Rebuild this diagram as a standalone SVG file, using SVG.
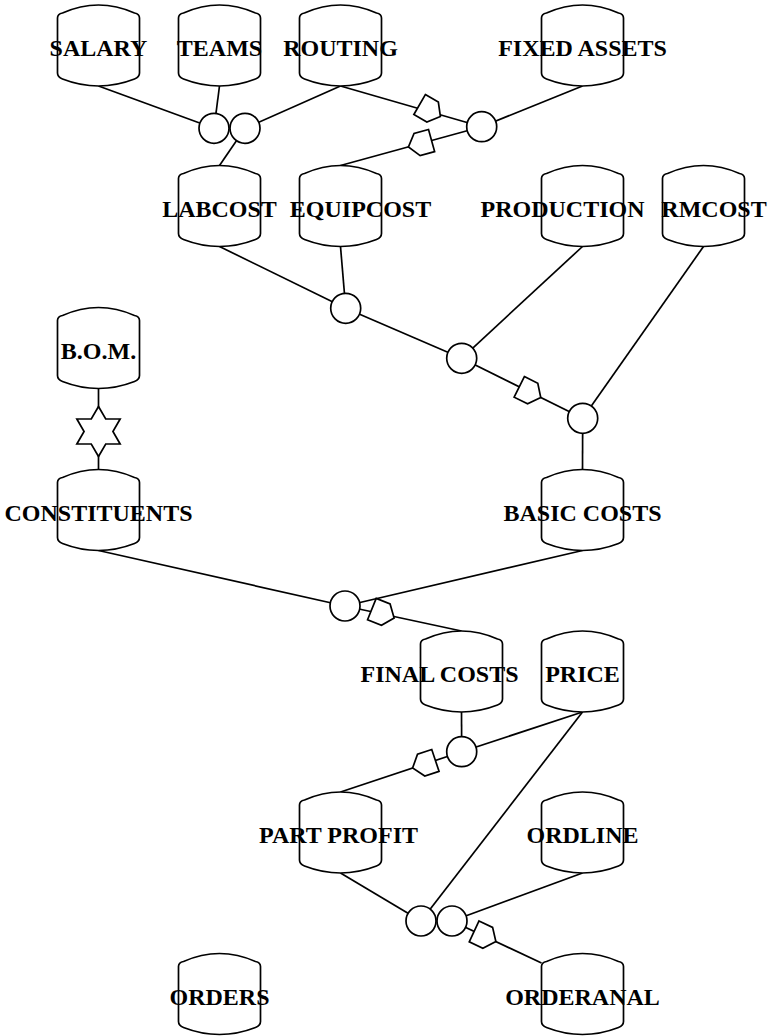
<svg xmlns="http://www.w3.org/2000/svg" xmlns:xlink="http://www.w3.org/1999/xlink" width="769" height="1036" viewBox="0 0 769 1036">
  <style>
    .node use { fill: #ffffff; stroke: #000000; stroke-width: 1.7; }
    .node text { font-family: "Liberation Serif", "Times New Roman", serif; font-weight: bold; font-size: 24px; text-anchor: middle; fill: #000000; }
    .links line { stroke: #000000; stroke-width: 1.7; }
    .join { fill: #ffffff; stroke: #000000; stroke-width: 1.7; }
  </style>
  <defs>
    <!-- drum outline, origin at the top centre -->
    <path id="drum" d="M -41,68 L -41,13 Q -41,9 -36,8 Q 0,-8 36,8 Q 41,9 41,13 L 41,68 Q 41,72 36,74 Q 0,88 -36,74 Q -41,72 -41,68 Z"/>
    <!-- directed junction, apex along +x -->
    <path id="penta" d="M -12,-11.5 L 3,-11.5 L 12,0 L 3,11.5 L -12,11.5 Z"/>
    <circle id="ring" r="15"/>
    <path id="star" d="M 0,-25 L 7.22,-12.5 L 21.65,-12.5 L 14.43,0 L 21.65,12.5 L 7.22,12.5 L 0,25 L -7.22,12.5 L -21.65,12.5 L -14.43,0 L -21.65,-12.5 L -7.22,-12.5 Z"/>
  </defs>

  <g id="connectors" class="links">
    <line x1="98.5" y1="86" x2="214" y2="128.3"/>
    <line x1="219.5" y1="86" x2="214" y2="128.3"/>
    <line x1="340.5" y1="86" x2="245" y2="128.3"/>
    <line x1="245" y1="128.3" x2="219.5" y2="165.5"/>
    <line x1="340.5" y1="86" x2="481.7" y2="126.7"/>
    <line x1="582.5" y1="86" x2="481.7" y2="126.7"/>
    <line x1="481.7" y1="126.7" x2="340.5" y2="165.5"/>
    <line x1="219.5" y1="246.5" x2="345.7" y2="308.3"/>
    <line x1="340.5" y1="246.5" x2="345.7" y2="308.3"/>
    <line x1="345.7" y1="308.3" x2="461.7" y2="358.3"/>
    <line x1="582.5" y1="246.5" x2="461.7" y2="358.3"/>
    <line x1="461.7" y1="358.3" x2="582.7" y2="418.3"/>
    <line x1="703.5" y1="246.5" x2="582.7" y2="418.3"/>
    <line x1="582.7" y1="418.3" x2="582.5" y2="469.5"/>
    <line x1="98.5" y1="388.5" x2="98.5" y2="469.5"/>
    <line x1="98.5" y1="550.5" x2="345" y2="606"/>
    <line x1="582.5" y1="550.5" x2="345" y2="606"/>
    <line x1="345" y1="606" x2="461.5" y2="631"/>
    <line x1="461.5" y1="712" x2="461.7" y2="751.7"/>
    <line x1="582.5" y1="712" x2="461.7" y2="751.7"/>
    <line x1="461.7" y1="751.7" x2="340.5" y2="792"/>
    <line x1="582.5" y1="712" x2="421" y2="921"/>
    <line x1="340.5" y1="873" x2="421" y2="921"/>
    <line x1="582.5" y1="873" x2="452" y2="921"/>
    <line x1="452" y1="921" x2="541.5" y2="963"/>
  </g>

  <g id="junctions">
    <use xlink:href="#ring" class="join" x="214" y="128.3"/>
    <use xlink:href="#ring" class="join" x="245" y="128.3"/>
    <use xlink:href="#ring" class="join" x="481.7" y="126.7"/>
    <use xlink:href="#ring" class="join" x="345.7" y="308.3"/>
    <use xlink:href="#ring" class="join" x="461.7" y="358.3"/>
    <use xlink:href="#ring" class="join" x="582.7" y="418.3"/>
    <use xlink:href="#ring" class="join" x="345" y="606"/>
    <use xlink:href="#ring" class="join" x="461.7" y="751.7"/>
    <use xlink:href="#ring" class="join" x="421" y="921"/>
    <use xlink:href="#ring" class="join" x="452" y="921"/>
    <use xlink:href="#penta" class="join" transform="translate(430,110.5) rotate(30)"/>
    <use xlink:href="#penta" class="join" transform="translate(420,143.7) rotate(164.6)"/>
    <use xlink:href="#penta" class="join" transform="translate(530,392.2) rotate(26.4)"/>
    <use xlink:href="#penta" class="join" transform="translate(383,613.5) rotate(22)"/>
    <use xlink:href="#penta" class="join" transform="translate(424,764.2) rotate(161.6)"/>
    <use xlink:href="#penta" class="join" transform="translate(485,936.5) rotate(25.1)"/>
    <use xlink:href="#star" class="join" x="98.5" y="431.5"/>
  </g>

  <g id="salary" class="node" transform="translate(98.5,5)"><use xlink:href="#drum"/><text y="51">SALARY</text></g>
  <g id="teams" class="node" transform="translate(219.5,5)"><use xlink:href="#drum"/><text y="51">TEAMS</text></g>
  <g id="routing" class="node" transform="translate(340.5,5)"><use xlink:href="#drum"/><text y="51">ROUTING</text></g>
  <g id="fixed-assets" class="node" transform="translate(582.5,5)"><use xlink:href="#drum"/><text y="51">FIXED ASSETS</text></g>
  <g id="labcost" class="node" transform="translate(219.5,165.5)"><use xlink:href="#drum"/><text y="51">LABCOST</text></g>
  <g id="equipcost" class="node" transform="translate(340.5,165.5)"><use xlink:href="#drum"/><text x="20" y="51">EQUIPCOST</text></g>
  <g id="production" class="node" transform="translate(582.5,165.5)"><use xlink:href="#drum"/><text x="-20" y="51">PRODUCTION</text></g>
  <g id="rmcost" class="node" transform="translate(703.5,165.5)"><use xlink:href="#drum"/><text x="10.5" y="51">RMCOST</text></g>
  <g id="bom" class="node" transform="translate(98.5,307.5)"><use xlink:href="#drum"/><text y="51">B.O.M.</text></g>
  <g id="constituents" class="node" transform="translate(98.5,469.5)"><use xlink:href="#drum"/><text y="51">CONSTITUENTS</text></g>
  <g id="basic-costs" class="node" transform="translate(582.5,469.5)"><use xlink:href="#drum"/><text y="51">BASIC COSTS</text></g>
  <g id="final-costs" class="node" transform="translate(461.5,631)"><use xlink:href="#drum"/><text x="-22" y="51">FINAL COSTS</text></g>
  <g id="price" class="node" transform="translate(582.5,631)"><use xlink:href="#drum"/><text y="51">PRICE</text></g>
  <g id="part-profit" class="node" transform="translate(340.5,792)"><use xlink:href="#drum"/><text x="-2" y="51">PART PROFIT</text></g>
  <g id="ordline" class="node" transform="translate(582.5,792)"><use xlink:href="#drum"/><text y="51">ORDLINE</text></g>
  <g id="orders" class="node" transform="translate(219.5,953.5)"><use xlink:href="#drum"/><text y="51">ORDERS</text></g>
  <g id="orderanal" class="node" transform="translate(582.5,953.5)"><use xlink:href="#drum"/><text y="51">ORDERANAL</text></g>
</svg>
